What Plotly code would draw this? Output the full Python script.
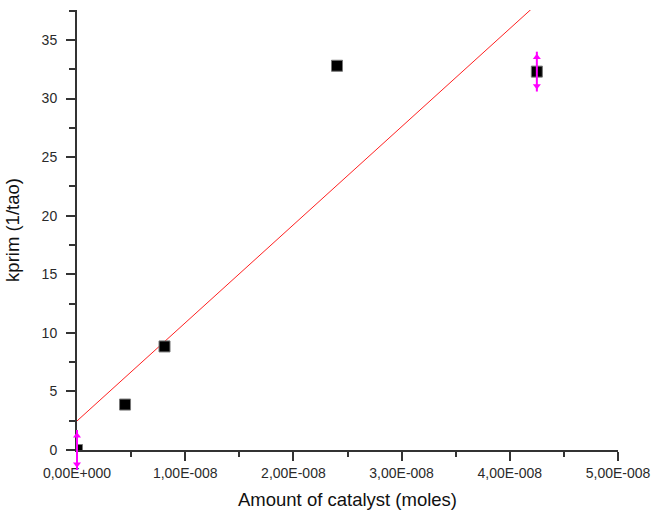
import numpy as np
import plotly.graph_objects as go

# Measured data
catalyst_moles = [0.0, 0.444e-8, 0.809e-8, 2.403e-8, 4.25e-8]
kprim = [0.0, 3.88, 8.84, 32.8, 32.3]
kprim_err = [1.7, 0.0, 0.0, 0.0, 1.7]

# Linear fit parameters
fit_intercept = 2.48
fit_slope = 8.373e8

# Axis ticks
x_tickvals = [0, 1e-8, 2e-8, 3e-8, 4e-8, 5e-8]
x_ticktext = ["0,00E+000", "1,00E-008", "2,00E-008", "3,00E-008", "4,00E-008", "5,00E-008"]
x_minorvals = [0.5e-8, 1.5e-8, 2.5e-8, 3.5e-8, 4.5e-8]
y_tickvals = [0, 5, 10, 15, 20, 25, 30, 35]

x = np.array(catalyst_moles)
y = np.array(kprim)
err = np.array(kprim_err)

W, H = 656, 513
M_L, M_R, M_T, M_B = 60, 38, 10, 20
AXIS_LEFT_PX = 77             # pixel column of the y axis line
AXIS_BOTTOM_PX = 450          # pixel row of the x axis line
Y_MAX = 37.56
X_MAX = 5e-8

plot_w = W - M_L - M_R
plot_h = H - M_T - M_B
main_left = (AXIS_LEFT_PX - M_L) / plot_w
main_bottom = (H - M_B - AXIS_BOTTOM_PX) / plot_h
# a second (hidden) subplot covers a larger area with the same scales, so
# error bars may reach past the axis lines
x_per_px = X_MAX / (W - M_R - AXIS_LEFT_PX)
x2_min = -(AXIS_LEFT_PX - M_L) * x_per_px
y_per_px = Y_MAX / (AXIS_BOTTOM_PX - M_T)
y2_min = Y_MAX - plot_h * y_per_px

fig = go.Figure()

# fitted straight line
fit_x = np.array([0.0, x.max()])
fig.add_trace(go.Scatter(
    x=fit_x, y=fit_intercept + fit_slope * fit_x,
    mode="lines", line=dict(color="#ff2020", width=1),
    showlegend=False, hoverinfo="skip",
))

# data points
fig.add_trace(go.Scatter(
    x=x, y=y, mode="markers", cliponaxis=True,
    marker=dict(symbol="square", size=11, color="black",
                line=dict(color="#777777", width=1)),
    showlegend=False,
))

# error bars with arrow heads
has_err = err > 0
ex, ey, ee = x[has_err], y[has_err], err[has_err]
fig.add_trace(go.Scatter(
    x=ex, y=ey, mode="markers", xaxis="x2", yaxis="y2",
    marker=dict(size=0.1, color="rgba(0,0,0,0)"),
    error_y=dict(type="data", array=ee, visible=True, color="#ff00ff",
                 thickness=2, width=0),
    showlegend=False, hoverinfo="skip",
))
fig.add_trace(go.Scatter(
    x=np.concatenate([ex, ex]),
    y=np.concatenate([ey + 0.72 * ee, ey - 0.72 * ee]),
    mode="markers", xaxis="x2", yaxis="y2",
    marker=dict(symbol=["triangle-up"] * len(ex) + ["triangle-down"] * len(ex),
                size=7, color="#ff00ff"),
    showlegend=False, hoverinfo="skip",
))

FONT = "Liberation Sans, Arial, sans-serif"
tick_font = dict(family=FONT, size=14, color="#2a2a2a")
title_font = dict(family=FONT, size=18.5, color="#111111")

fig.update_layout(
    width=W, height=H,
    margin=dict(l=M_L, r=M_R, t=M_T, b=M_B, autoexpand=False),
    plot_bgcolor="rgba(0,0,0,0)", paper_bgcolor="white",
    font=dict(family=FONT),
    xaxis=dict(
        domain=[main_left, 1],
        range=[0, X_MAX], showgrid=False, zeroline=False, automargin=False,
        anchor="y",
        showline=True, linecolor="#333333", linewidth=2,
        tickmode="array", tickvals=x_tickvals, ticktext=x_ticktext,
        ticks="outside", ticklen=9, tickwidth=1.5, tickcolor="#333333",
        minor=dict(tickmode="array", tickvals=x_minorvals, ticks="outside",
                   ticklen=5, tickwidth=1.5, tickcolor="#333333"),
        tickfont=tick_font,
        title=dict(text="Amount of catalyst (moles)", standoff=13, font=title_font),
    ),
    yaxis=dict(
        domain=[main_bottom, 1], automargin=False, anchor="x",
        range=[0, Y_MAX], showgrid=False, zeroline=False,
        showline=True, linecolor="#333333", linewidth=2,
        tickmode="array", tickvals=y_tickvals,
        ticks="outside", ticklen=9, tickwidth=1.5, tickcolor="#333333",
        minor=dict(dtick=2.5, tick0=0, ticks="outside",
                   ticklen=6, tickwidth=1.5, tickcolor="#333333"),
        tickfont=tick_font, ticklabelstandoff=6,
        title=dict(text="kprim (1/tao)", standoff=17, font=title_font),
    ),
    xaxis2=dict(range=[x2_min, X_MAX], domain=[0, 1], anchor="y2",
                visible=False, automargin=False),
    yaxis2=dict(range=[y2_min, Y_MAX], domain=[0, 1], anchor="x2",
                visible=False, automargin=False),
)

fig.write_html("out.html")
